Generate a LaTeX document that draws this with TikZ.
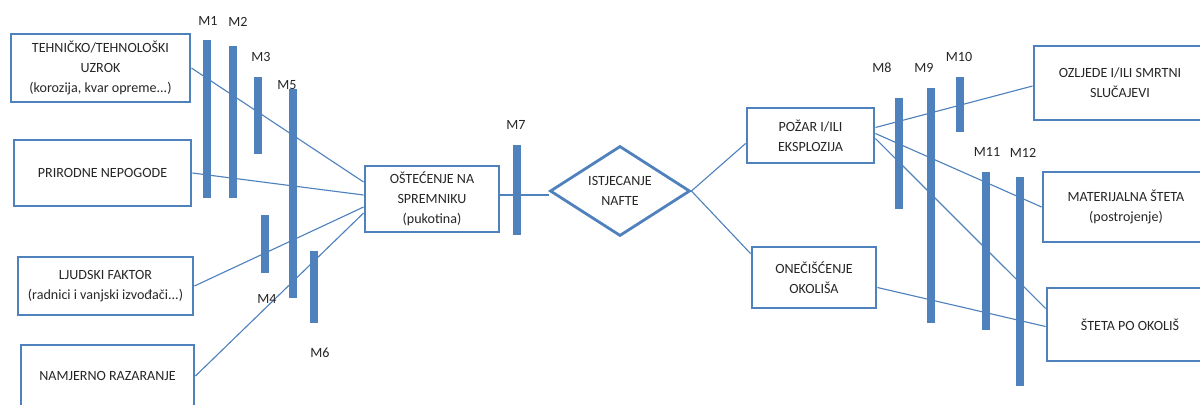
\documentclass[tikz,border=0pt]{standalone}
\usepackage{fontspec}
\setmainfont{Carlito}
\usepackage{tikz}
\usetikzlibrary{shapes.geometric, calc, positioning}
\definecolor{mblue}{RGB}{79, 129, 189}

\begin{document}
\begin{tikzpicture}[x=0.025cm, y=-0.025cm,
    every node/.style={font=\fontsize{10}{14.2}\selectfont, text=black!85},
    box/.style={draw=mblue, line width=2pt, rectangle, align=center, inner sep=0pt},
    barm/.style={fill=mblue, rectangle, inner sep=0pt, minimum width=0.2cm},
    link/.style={mblue, line width=0.8pt}]
    \useasboundingbox (0,0) rectangle (1200,404);
    \clip (0,0) rectangle (1200,404);

    % Causes (left)
    \node[box, minimum width=4.475cm, minimum height=1.7cm] (tech) at (100.5,68)
        {TEHNIČKO/TEHNOLOŠKI\\UZROK\\(korozija, kvar opreme...)};
    \node[box, minimum width=4.425cm, minimum height=1.65cm] (prir) at (102.5,173)
        {PRIRODNE NEPOGODE};
    \node[box, minimum width=4.375cm, minimum height=1.45cm] (ljud) at (105.5,286)
        {LJUDSKI FAKTOR\\(radnici i vanjski izvođači...)};
    \node[box, minimum width=4.325cm, minimum height=1.55cm] (namj) at (107.5,376)
        {NAMJERNO RAZARANJE};

    % Top event
    \node[box, minimum width=3.35cm, minimum height=1.65cm] (ost) at (432,199)
        {OŠTEĆENJE NA\\SPREMNIKU\\(pukotina)};
    \node[box, diamond, aspect=1.55, minimum width=3.5cm, minimum height=2.25cm] (istj) at (620,191)
        {ISTJECANJE\\NAFTE};

    % Consequences (right)
    \node[box, minimum width=3.175cm, minimum height=1.375cm] (pozar) at (810.5,135.5)
        {POŽAR I/ILI\\EKSPLOZIJA};
    \node[box, minimum width=3.1cm, minimum height=1.525cm] (oneci) at (814,277.5)
        {ONEČIŠĆENJE\\OKOLIŠA};
    \node[box, minimum width=4.3cm, minimum height=1.85cm] (ozlj) at (1120,83)
        {OZLJEDE I/ILI SMRTNI\\SLUČAJEVI};
    \node[box, minimum width=4.15cm, minimum height=1.75cm] (mater) at (1126,207)
        {MATERIJALNA ŠTETA\\(postrojenje)};
    \node[box, minimum width=4.15cm, minimum height=1.825cm] (steta) at (1130,324.5)
        {ŠTETA PO OKOLIŠ};

    % Connections
    \draw[link] (tech.east) -- ($(ost.west)+(0,-17)$);
    \draw[link] (prir.east) -- ($(ost.west)+(0,-4)$);
    \draw[link] (ljud.east) -- ($(ost.west)+(0,8)$);
    \draw[link] (namj.east) -- ($(ost.west)+(0,14)$);
    \draw[link] ($(ost.east)+(0,-4)$) -- ($(istj.west)+(0,4)$);
    \draw[link] (istj.east) -- ($(pozar.west)+(0,8)$);
    \draw[link] (istj.east) -- ($(oneci.north west)+(0,8)$);
    \draw[link] ($(pozar.east)+(0,-8)$) -- ($(ozlj.west)+(0,3)$);
    \draw[link] ($(pozar.east)+(0,-2)$) -- (mater.west);
    \draw[link] ($(pozar.east)+(0,3)$) -- ($(steta.west)+(0,-16)$);
    \draw[link] ($(oneci.east)+(0,10)$) -- ($(steta.west)+(0,2)$);

    % Barriers
    \foreach \n/\x/\y/\h in {1/207/119/3.95, 2/233/122/3.8, 3/258/115.5/1.925,
        4/265/244/1.45, 5/293/193.5/5.225, 6/314/287/1.8, 7/517/190/2.25,
        8/899/153.5/2.775, 9/931/205.5/5.875, 10/960/104.5/1.375,
        11/986/251/3.95, 12/1020/281.5/5.225} {
        \node[barm, minimum height=\h cm] (m\n) at (\x,\y) {};
    }

    % Barrier labels
    \foreach \n/\x/\y in {1/208/21, 2/238/22, 3/261/57, 4/267/299, 5/287/85,
        6/320/353, 7/516/125, 8/882/68, 9/924/68, 10/959/57, 11/987/152, 12/1023/153} {
        \node (lm\n) at (\x,\y) {M\n};
    }

\end{tikzpicture}
\end{document}
